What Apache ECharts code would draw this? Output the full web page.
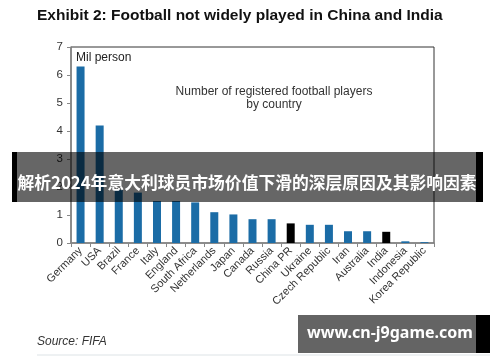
<!DOCTYPE html>
<html>
<head>
<meta charset="utf-8">
<script src="https://cdn.jsdelivr.net/npm/echarts@6/dist/echarts.min.js"></script>
<style>
html,body{margin:0;padding:0;background:#fff;}
#chart{width:500px;height:362px;}
</style>
</head>
<body>
<div id="chart"></div>
<script>
const categories = ['Germany','USA','Brazil','France','Italy','England','South Africa','Netherlands','Japan','Canada','Russia','China PR','Ukraine','Czech Republic','Iran','Australia','India','Indonesia','Korea Republic'];
const players = [6.3, 4.2, 1.9, 1.8, 1.5, 1.5, 1.45, 1.1, 1.02, 0.85, 0.85, 0.7, 0.65, 0.65, 0.42, 0.42, 0.4, 0.06, 0.03];
const highlighted = ['China PR', 'India'];
const yTicks = [0, 1, 2, 3, 4, 5, 6, 7];

const titleText = 'Exhibit 2: Football not widely played in China and India';
const unitText = 'Mil person';
const noteText = 'Number of registered football players\nby country';
const sourceText = 'Source: FIFA';
const bannerText = '解析2024年意大利球员市场价值下滑的深层原因及其影响因素';
const watermarkText = 'www.cn-j9game.com';

const BLUE = '#1b6ca6';
const FONT = '"Liberation Sans", Arial, sans-serif';

const chart = echarts.init(document.getElementById('chart'));
chart.setOption({
  animation: false,
  backgroundColor: '#fff',
  grid: { left: 71, right: 66, top: 47, bottom: 119, show: true, borderColor: '#333', borderWidth: 1 },
  xAxis: {
    type: 'category',
    data: categories,
    axisLine: { lineStyle: { color: '#888', width: 1.5 } },
    axisTick: { show: true, length: 4, lineStyle: { color: '#888' } },
    axisLabel: { rotate: 45, fontSize: 11, color: '#333', fontFamily: FONT, margin: 6, interval: 0 }
  },
  yAxis: {
    type: 'value',
    min: yTicks[0], max: yTicks[yTicks.length - 1], interval: 1,
    splitLine: { show: false },
    axisLine: { show: true, lineStyle: { color: '#888', width: 1.5 } },
    axisTick: { show: true, length: 4, lineStyle: { color: '#888' } },
    axisLabel: { fontSize: 11.5, color: '#333', fontFamily: FONT, margin: 8 }
  },
  series: [{
    type: 'bar',
    barWidth: 8,
    data: players.map((v, i) => ({
      value: v,
      itemStyle: { color: highlighted.includes(categories[i]) ? '#000' : BLUE }
    }))
  }],
  graphic: [
    { type: 'text', x: 37, y: 16, style: { text: titleText, font: 'bold 15.5px ' + FONT, fill: '#111', textVerticalAlign: 'middle' } },
    { type: 'text', x: 76, y: 58, style: { text: unitText, font: '12px ' + FONT, fill: '#222', textVerticalAlign: 'middle' } },
    { type: 'text', x: 274, y: 98.5, style: { text: noteText, font: '12px ' + FONT, fill: '#333', textAlign: 'center', textVerticalAlign: 'middle', lineHeight: 13 } },
    { type: 'text', x: 37, y: 342, style: { text: sourceText, font: 'italic 12px ' + FONT, fill: '#333', textVerticalAlign: 'middle' } },
    { type: 'line', shape: { x1: 37, y1: 355, x2: 490, y2: 355 }, style: { stroke: '#dde3e6', lineWidth: 1 } },
    { type: 'rect', shape: { x: 12, y: 152, width: 5, height: 50 }, style: { fill: '#000' }, z: 100 },
    { type: 'rect', shape: { x: 17, y: 152, width: 459, height: 50 }, style: { fill: 'rgba(0,0,0,0.6)' }, z: 100 },
    { type: 'rect', shape: { x: 476, y: 152, width: 7, height: 50 }, style: { fill: '#000' }, z: 100 },
    { type: 'text', x: 247, y: 183, style: { text: bannerText, font: 'bold 16.8px "Noto Sans CJK SC", sans-serif', fill: '#fff', textAlign: 'center', textVerticalAlign: 'middle' }, z: 101 },
    { type: 'rect', shape: { x: 298, y: 315, width: 178, height: 38 }, style: { fill: '#646464' }, z: 100 },
    { type: 'rect', shape: { x: 476, y: 315, width: 14, height: 38 }, style: { fill: '#000' }, z: 100 },
    { type: 'text', x: 390, y: 333, style: { text: watermarkText, font: 'bold 16px "Noto Sans", sans-serif', fill: '#fff', textAlign: 'center', textVerticalAlign: 'middle' }, z: 101 }
  ]
});
</script>
</body>
</html>
